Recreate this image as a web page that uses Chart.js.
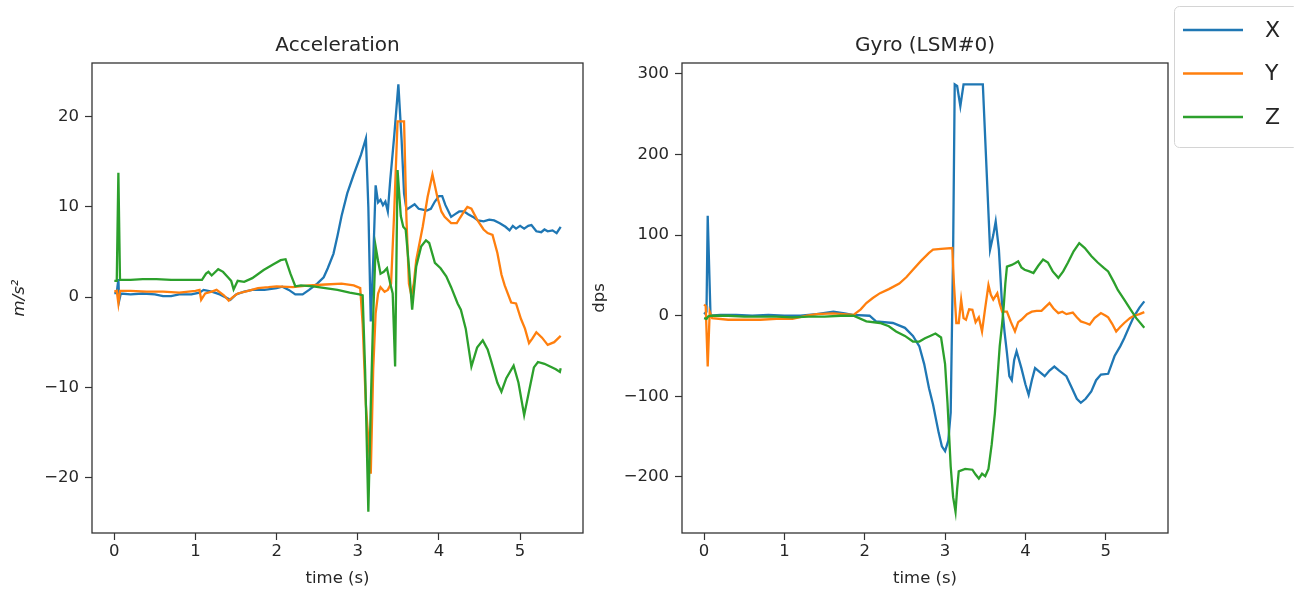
<!DOCTYPE html>
<html>
<head>
<meta charset="utf-8">
<script src="https://cdn.jsdelivr.net/npm/chart.js@4.4.0/dist/chart.umd.min.js"></script>
<style>
  html, body { margin: 0; padding: 0; background: #fff; }
  #wrap { position: relative; width: 1294px; height: 592px; overflow: hidden; }
  canvas { position: absolute; top: 0; }
  #accel { left: 0; }
  #gyro { left: 586px; }
</style>
</head>
<body>
<div id="wrap">
  <canvas id="accel" width="590" height="592" style="width:590px;height:592px"></canvas>
  <canvas id="gyro" width="708" height="592" style="width:708px;height:592px"></canvas>
</div>
<script>
// IMU log, [time (s), value] pairs
const accelX = [[0.00,0.4],[0.03,0.5],[0.05,2.0],[0.06,-0.4],[0.08,0.4],[0.2,0.3],[0.35,0.4],[0.5,0.3],[0.6,0.1],[0.7,0.1],[0.8,0.3],[0.95,0.3],[1.05,0.5],[1.1,0.8],[1.2,0.6],[1.3,0.3],[1.43,-0.3],[1.5,0.3],[1.6,0.6],[1.7,0.8],[1.85,0.8],[2.0,1.0],[2.07,1.15],[2.15,0.8],[2.23,0.3],[2.32,0.3],[2.4,0.8],[2.5,1.5],[2.58,2.2],[2.63,3.2],[2.7,4.8],[2.75,6.8],[2.8,9.0],[2.87,11.5],[2.95,13.6],[3.04,15.8],[3.10,17.6],[3.13,10],[3.16,-2.7],[3.19,4],[3.22,12.4],[3.25,10.5],[3.28,10.8],[3.31,10.2],[3.34,10.6],[3.37,9.5],[3.40,13],[3.45,18],[3.50,23.6],[3.54,17.4],[3.57,11.5],[3.60,9.7],[3.65,10.0],[3.70,10.3],[3.75,9.8],[3.80,9.7],[3.85,9.6],[3.90,9.8],[3.95,10.6],[4.00,11.2],[4.04,11.2],[4.08,10.2],[4.15,8.9],[4.20,9.2],[4.25,9.5],[4.31,9.5],[4.36,9.2],[4.42,8.9],[4.48,8.5],[4.55,8.4],[4.62,8.6],[4.68,8.5],[4.75,8.2],[4.82,7.8],[4.87,7.4],[4.91,7.9],[4.95,7.6],[5.0,7.9],[5.05,7.6],[5.1,7.9],[5.14,8.0],[5.2,7.3],[5.26,7.2],[5.3,7.5],[5.34,7.3],[5.4,7.4],[5.45,7.1],[5.5,7.8]];
const accelY = [[0.0,0.6],[0.03,0.7],[0.05,-0.7],[0.07,0.7],[0.2,0.7],[0.4,0.6],[0.6,0.6],[0.8,0.5],[1.0,0.7],[1.05,0.8],[1.07,-0.3],[1.12,0.4],[1.2,0.6],[1.26,0.8],[1.35,0.2],[1.41,-0.4],[1.46,0.0],[1.52,0.4],[1.65,0.7],[1.77,1.0],[1.9,1.1],[2.0,1.2],[2.2,1.1],[2.4,1.3],[2.6,1.4],[2.8,1.5],[2.95,1.3],[3.03,1.0],[3.06,-3],[3.10,-12],[3.16,-19.6],[3.19,-8],[3.22,-1.8],[3.25,0.4],[3.28,1.1],[3.33,0.6],[3.37,0.8],[3.41,1.5],[3.45,9.7],[3.49,19.5],[3.57,19.5],[3.60,8.6],[3.63,1.5],[3.66,0.2],[3.69,1.5],[3.72,4.1],[3.80,7.8],[3.86,11.1],[3.92,13.6],[3.98,11.1],[4.03,9.5],[4.07,8.9],[4.15,8.2],[4.22,8.2],[4.26,8.8],[4.31,9.5],[4.35,10.0],[4.40,9.8],[4.47,8.6],[4.55,7.5],[4.60,7.1],[4.66,6.9],[4.72,4.9],[4.77,2.5],[4.81,1.3],[4.89,-0.6],[4.95,-0.7],[5.01,-2.4],[5.06,-3.5],[5.11,-5.1],[5.15,-4.6],[5.20,-3.9],[5.27,-4.5],[5.34,-5.3],[5.42,-5.0],[5.5,-4.3]];
const accelZ = [[0.0,1.8],[0.03,1.8],[0.05,13.8],[0.07,1.9],[0.2,1.9],[0.35,2.0],[0.52,2.0],[0.7,1.9],[0.85,1.9],[1.0,1.9],[1.08,1.9],[1.13,2.6],[1.16,2.8],[1.2,2.4],[1.28,3.1],[1.34,2.8],[1.4,2.2],[1.44,1.8],[1.47,0.85],[1.52,1.8],[1.6,1.7],[1.7,2.1],[1.84,3.0],[1.95,3.6],[2.05,4.1],[2.11,4.2],[2.17,2.6],[2.23,1.2],[2.3,1.3],[2.45,1.2],[2.6,1.0],[2.75,0.8],[2.9,0.5],[3.02,0.3],[3.06,0.2],[3.09,-8],[3.13,-23.8],[3.16,-12],[3.19,-2],[3.22,5.6],[3.25,4.0],[3.28,2.6],[3.32,2.8],[3.36,3.2],[3.40,1.5],[3.43,0.4],[3.46,-7.7],[3.49,14.1],[3.53,9],[3.56,7.8],[3.59,7.5],[3.63,3.4],[3.67,-1.4],[3.72,3.4],[3.78,5.6],[3.84,6.3],[3.88,6.0],[3.95,3.8],[4.02,3.2],[4.09,2.3],[4.15,1.1],[4.23,-0.7],[4.27,-1.4],[4.33,-3.5],[4.40,-7.7],[4.47,-5.6],[4.54,-4.8],[4.60,-5.8],[4.64,-7.0],[4.72,-9.5],[4.77,-10.5],[4.83,-9.0],[4.92,-7.6],[4.98,-9.5],[5.05,-13.1],[5.12,-10],[5.17,-7.8],[5.22,-7.2],[5.30,-7.4],[5.37,-7.7],[5.44,-8.0],[5.49,-8.3],[5.5,-7.9]];

const gyroX = [[0.0,2],[0.03,5],[0.045,124],[0.08,0],[0.2,1],[0.4,1],[0.6,0],[0.8,1],[1.0,0],[1.2,0],[1.4,2],[1.61,5],[1.75,3],[1.85,1],[2.06,0],[2.14,-7],[2.35,-9],[2.5,-15],[2.6,-25],[2.68,-38],[2.74,-60],[2.8,-90],[2.85,-110],[2.92,-145],[2.96,-162],[3.0,-168],[3.04,-155],[3.07,-120],[3.10,80],[3.12,287],[3.15,285],[3.19,260],[3.23,287],[3.47,287],[3.56,82],[3.60,100],[3.63,117],[3.67,82],[3.71,12],[3.74,-20],[3.77,-46],[3.80,-75],[3.83,-80],[3.86,-55],[3.89,-44],[3.95,-65],[4.0,-85],[4.04,-98],[4.08,-80],[4.12,-65],[4.18,-70],[4.24,-75],[4.3,-68],[4.36,-63],[4.42,-68],[4.51,-75],[4.58,-90],[4.64,-103],[4.69,-108],[4.75,-103],[4.82,-94],[4.88,-80],[4.94,-73],[5.03,-72],[5.11,-50],[5.18,-38],[5.23,-28],[5.3,-12],[5.35,-1],[5.42,10],[5.48,17.8]];
const gyroY = [[0.0,14],[0.02,12],[0.045,-63],[0.07,5],[0.1,-3],[0.3,-5],[0.5,-5],[0.7,-5],[0.9,-4],[1.1,-4],[1.28,0],[1.4,2],[1.6,3],[1.86,1],[1.95,8],[2.02,15.7],[2.1,22],[2.19,28],[2.3,33],[2.43,40],[2.52,48],[2.6,57],[2.7,68],[2.8,78],[2.85,82],[2.95,83],[3.09,84],[3.11,40],[3.14,-9],[3.17,-9],[3.20,20],[3.23,-3],[3.26,-5],[3.30,8],[3.34,7.5],[3.38,-8],[3.42,-2],[3.46,-19.5],[3.50,10],[3.54,38],[3.57,26],[3.60,20],[3.65,28],[3.68,15],[3.71,5],[3.77,5],[3.82,-8],[3.87,-19.5],[3.91,-8],[3.95,-5],[4.02,2],[4.08,5],[4.14,6],[4.20,6],[4.25,11],[4.30,15.7],[4.35,9],[4.41,3.3],[4.46,5],[4.51,2],[4.59,4],[4.64,-2],[4.69,-7],[4.75,-9],[4.80,-11],[4.86,-3],[4.94,3.3],[5.0,0],[5.03,-2],[5.08,-10],[5.13,-19.5],[5.18,-14],[5.23,-9],[5.30,-3],[5.35,0],[5.42,2],[5.48,4.5]];
const gyroZ = [[0.0,-3],[0.03,-4],[0.05,-1],[0.08,0],[0.3,0],[0.5,-1],[0.7,-1],[0.9,-1],[1.1,-2],[1.3,-1],[1.5,-1],[1.7,0],[1.86,0],[2.02,-7],[2.19,-9],[2.3,-13],[2.39,-19.5],[2.5,-25],[2.60,-32],[2.68,-32],[2.75,-28],[2.80,-25.7],[2.88,-22],[2.95,-27],[3.0,-60],[3.03,-108],[3.07,-187],[3.10,-225],[3.13,-243],[3.15,-215],[3.17,-193],[3.25,-190],[3.34,-191],[3.38,-197],[3.42,-202],[3.46,-196],[3.50,-199],[3.54,-190],[3.58,-160],[3.62,-121],[3.65,-80],[3.68,-38],[3.71,-10],[3.73,12],[3.75,40],[3.77,61],[3.83,63],[3.87,65],[3.91,67.5],[3.95,60],[3.99,57],[4.05,55],[4.10,53],[4.16,62],[4.22,69.6],[4.28,66],[4.34,55],[4.41,47],[4.47,55],[4.53,66],[4.60,80],[4.67,90],[4.74,84],[4.82,74],[4.90,66],[4.98,59],[5.03,55],[5.10,42],[5.15,32],[5.23,20],[5.31,7.5],[5.38,-3],[5.48,-15]];

const axisNames = ['X', 'Y', 'Z'];
const timeTicks = [0, 1, 2, 3, 4, 5];
const accelTicks = [-20, -10, 0, 10, 20];
const gyroTicks = [-200, -100, 0, 100, 200, 300];

const colors = ['#1f77b4', '#ff7f0e', '#2ca02c'];
const textColor = '#262626';

Chart.defaults.font.family = "'DejaVu Sans', sans-serif";
Chart.defaults.color = textColor;

// matplotlib style minus sign
const fmt = v => (v < 0 ? '\u2212' + Math.abs(v) : String(v));

// axes box drawn over the lines
const frame = {
  id: 'frame',
  afterDatasetsDraw(chart) {
    const { ctx, chartArea: a } = chart;
    ctx.save();
    ctx.strokeStyle = '#333';
    ctx.lineWidth = 1.3;
    ctx.strokeRect(a.left, a.top, a.right - a.left, a.bottom - a.top);
    ctx.restore();
  }
};

// figure legend in the right margin of the gyro chart
const figLegend = {
  id: 'figLegend',
  afterDraw(chart) {
    const { ctx, chartArea: a } = chart;
    const left = a.right + 6, top = 6, w = 124, h = 141;
    ctx.save();
    ctx.beginPath();
    ctx.roundRect(left + 0.5, top + 0.5, w, h, 5);
    ctx.fillStyle = 'rgba(255,255,255,0.8)';
    ctx.fill();
    ctx.strokeStyle = '#d4d4d4';
    ctx.lineWidth = 1;
    ctx.stroke();
    ctx.font = "22px 'DejaVu Sans'";
    ctx.textBaseline = 'middle';
    chart.data.datasets.forEach((ds, i) => {
      const y = top + 24 + i * 43.5;
      ctx.strokeStyle = ds.borderColor;
      ctx.lineWidth = 2.6;
      ctx.beginPath();
      ctx.moveTo(left + 9, y);
      ctx.lineTo(left + 69, y);
      ctx.stroke();
      ctx.fillStyle = textColor;
      ctx.fillText(ds.label, left + 91, y + 1);
    });
    ctx.restore();
  }
};

function makeChart(id, opts) {
  const datasets = opts.series.map((pts, i) => ({
    label: axisNames[i],
    data: pts.map(([t, v]) => ({ x: t, y: v })),
    borderColor: colors[i],
    backgroundColor: colors[i],
    borderWidth: 2.3,
    pointRadius: 0,
    tension: 0,
    fill: false,
    order: 2 - i
  }));

  return new Chart(document.getElementById(id), {
    type: 'line',
    data: { datasets },
    plugins: opts.plugins,
    options: {
      responsive: false,
      animation: false,
      events: [],
      layout: { padding: opts.padding },
      plugins: {
        legend: { display: false },
        tooltip: { enabled: false },
        title: {
          display: true,
          text: opts.title,
          fullSize: false,
          font: { size: 20, weight: 'normal' },
          padding: { top: 0, bottom: 5 }
        }
      },
      scales: {
        x: {
          type: 'linear',
          min: -0.275,
          max: 5.775,
          afterBuildTicks: s => { s.ticks = timeTicks.map(v => ({ value: v })); },
          afterFit: s => { s.height = 59; },
          grid: { display: true, drawOnChartArea: false, drawTicks: true, tickLength: 7, tickColor: '#333', tickWidth: 1.2 },
          border: { display: false },
          ticks: { padding: 2, autoSkip: false, maxRotation: 0, font: { size: 16.5 }, callback: fmt },
          title: { display: true, text: 'time (s)', font: { size: 16.5 }, padding: { top: 0, bottom: 3 } }
        },
        y: {
          type: 'linear',
          min: opts.yMin,
          max: opts.yMax,
          afterBuildTicks: s => { s.ticks = opts.yTicks.map(v => ({ value: v })); },
          afterFit: s => { s.width = opts.yWidth; },
          grid: { display: true, drawOnChartArea: false, drawTicks: true, tickLength: 7, tickColor: '#333', tickWidth: 1.2 },
          border: { display: false },
          ticks: { padding: 6, autoSkip: false, font: { size: 16.5 }, callback: fmt },
          title: { display: true, text: opts.yLabel, font: { size: 16.5, style: opts.yStyle || 'normal' }, padding: { top: 2, bottom: 0 } }
        }
      }
    }
  });
}

makeChart('accel', {
  title: 'Acceleration',
  yLabel: 'm/s²',
  yStyle: 'italic',
  yMin: -26.17,
  yMax: 25.97,
  yTicks: accelTicks,
  yWidth: 84,
  padding: { left: 8, top: 34, right: 7, bottom: 0 },
  series: [accelX, accelY, accelZ],
  plugins: [frame]
});

makeChart('gyro', {
  title: 'Gyro (LSM#0)',
  yLabel: 'dps',
  yMin: -269.5,
  yMax: 313.5,
  yTicks: gyroTicks,
  yWidth: 94,
  padding: { left: 2, top: 34, right: 126, bottom: 0 },
  series: [gyroX, gyroY, gyroZ],
  plugins: [frame, figLegend]
});
</script>
</body>
</html>
